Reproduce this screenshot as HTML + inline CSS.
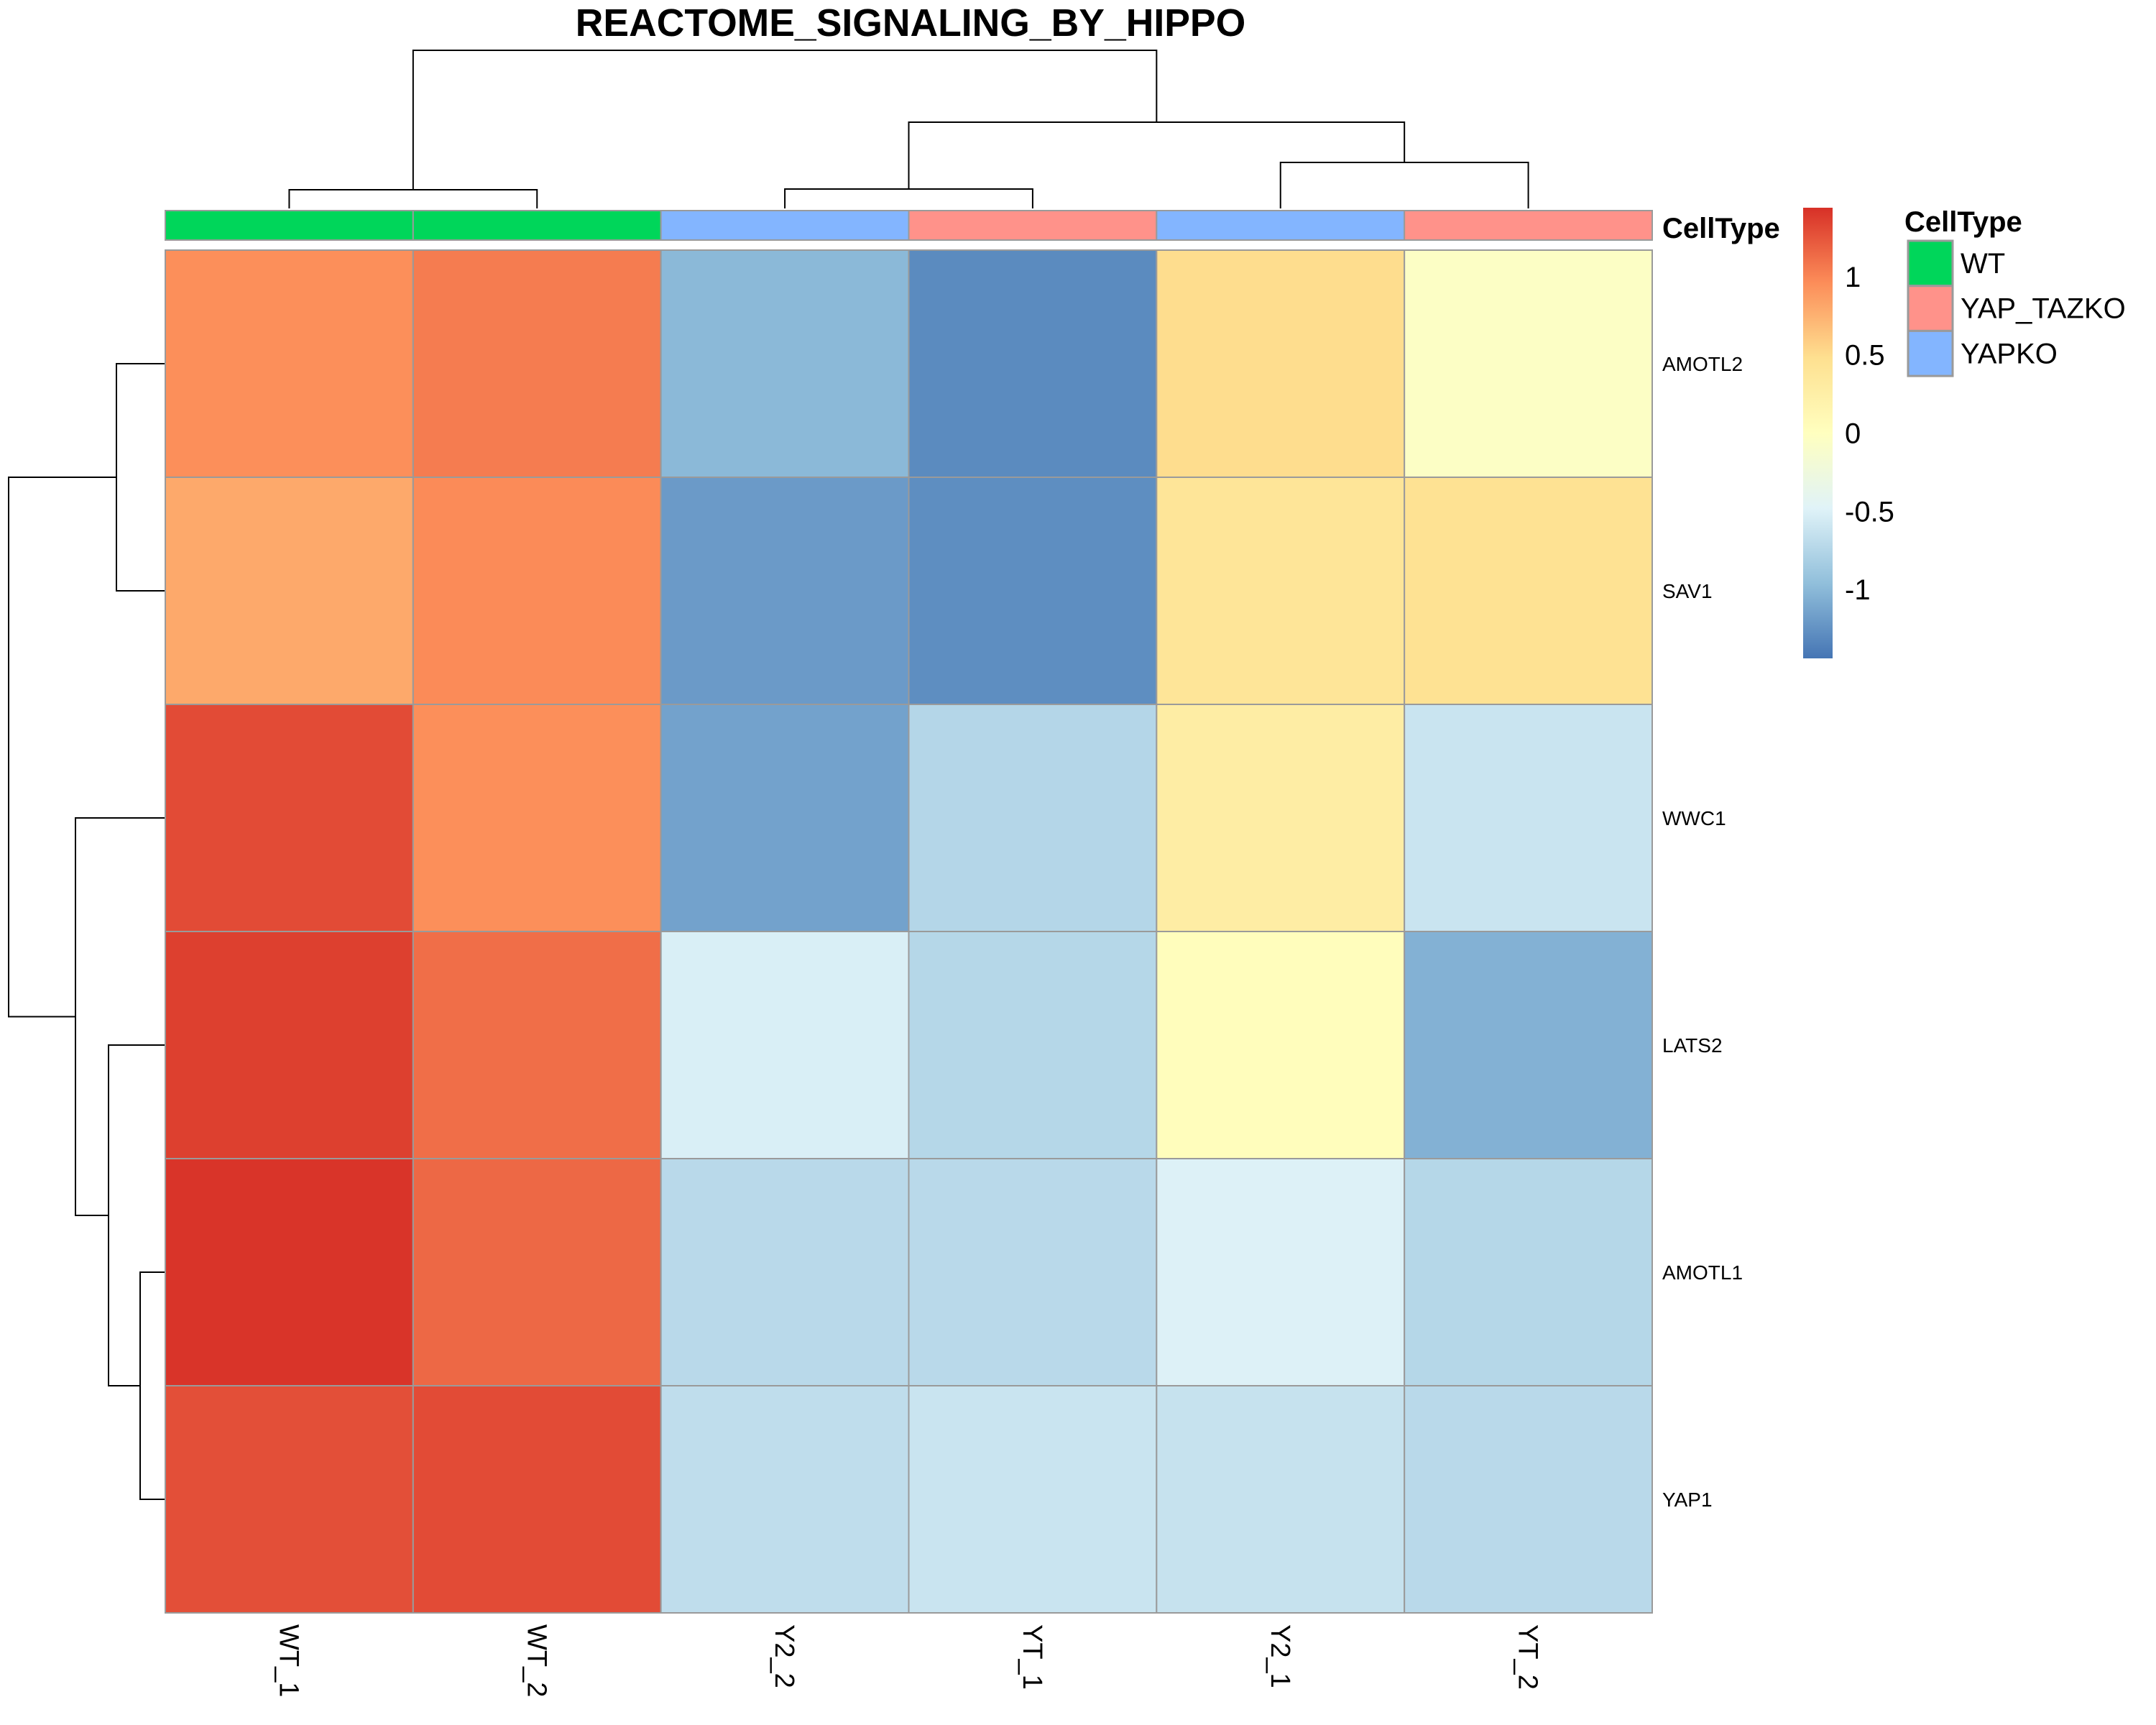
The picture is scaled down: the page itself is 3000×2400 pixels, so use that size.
<!DOCTYPE html>
<html><head><meta charset="utf-8"><style>
html,body{margin:0;padding:0;background:#fff;}
svg{display:block;font-family:"Liberation Sans",Arial,sans-serif;}
</style></head><body>
<svg id="chart" width="3000" height="2400" viewBox="0 0 3000 2400" xmlns="http://www.w3.org/2000/svg">
<text x="1267" y="50" font-size="53.5" font-weight="bold" text-anchor="middle">REACTOME_SIGNALING_BY_HIPPO</text>
<g id="dendro" stroke="#000" stroke-width="2" fill="none"></g>
<g id="annot"></g>
<g id="cells"></g>
<g id="rowlabels"></g>
<g id="collabels"></g>
<text x="2313" y="331" font-size="40" font-weight="bold">CellType</text>
<defs><linearGradient id="cbgrad" x1="0" y1="1" x2="0" y2="0">
<stop offset="0" stop-color="#4575B4"/><stop offset="0.1667" stop-color="#91BFDB"/><stop offset="0.3333" stop-color="#E0F3F8"/><stop offset="0.5" stop-color="#FFFFBF"/><stop offset="0.6667" stop-color="#FEE090"/><stop offset="0.8333" stop-color="#FC8D59"/><stop offset="1" stop-color="#D73027"/></linearGradient></defs>
<rect x="2509" y="289" width="41" height="627" fill="url(#cbgrad)"/>
<g id="cbticks"></g>
<text x="2650" y="322" font-size="40" font-weight="bold">CellType</text>
<g id="legend"></g>
</svg>
<script>
const rowNames = ["AMOTL2","SAV1","WWC1","LATS2","AMOTL1","YAP1"];
const colNames = ["WT_1","WT_2","Y2_2","YT_1","Y2_1","YT_2"];
const colTypes = ["WT","WT","YAPKO","YAP_TAZKO","YAPKO","YAP_TAZKO"];
const rowAMOTL2 = [0.95,1.05,-1.0,-1.3,0.5,-0.05];
const rowSAV1 = [0.8,0.97,-1.2,-1.28,0.4,0.45];
const rowWWC1 = [1.3,0.95,-1.15,-0.75,0.28,-0.62];
const rowLATS2 = [1.36,1.12,-0.52,-0.74,0.03,-1.05];
const rowAMOTL1 = [1.42,1.15,-0.72,-0.72,-0.5,-0.74];
const rowYAP1 = [1.28,1.3,-0.68,-0.62,-0.64,-0.72];
const values = [rowAMOTL2,rowSAV1,rowWWC1,rowLATS2,rowAMOTL1,rowYAP1];
const scaleTicks = [1,0.5,0,-0.5,-1];
const scaleTickLabels = ["1","0.5","0","-0.5","-1"];
const legendTypes = ["WT","YAP_TAZKO","YAPKO"];
const typeColors = {"WT":"#00D65A","YAP_TAZKO":"#FF928A","YAPKO":"#83B5FF"};
const vMin = -1.44, vMax = 1.44;
const palette = ["#4575B4","#91BFDB","#E0F3F8","#FFFFBF","#FEE090","#FC8D59","#D73027"];
const NS="http://www.w3.org/2000/svg";
const X0=230,X1=2299,Y0=348,Y1=2244;
const cw=(X1-X0)/colNames.length, ch=(Y1-Y0)/rowNames.length;
const xCol=i=>X0+i*cw, yRow=j=>Y0+j*ch;
const cbTop=289,cbBot=916;
const yScale=v=>cbBot-(v-vMin)/(vMax-vMin)*(cbBot-cbTop);
function hex(h){return [1,3,5].map(i=>parseInt(h.substr(i,2),16));}
function colorFor(v){
  let t=(v-vMin)/(vMax-vMin); t=Math.max(0,Math.min(1,t))*(palette.length-1);
  const i=Math.min(palette.length-2,Math.floor(t)), f=t-i;
  const a=hex(palette[i]), b=hex(palette[i+1]);
  return "rgb("+a.map((c,k)=>Math.round(c+(b[k]-c)*f)).join(",")+")";
}
function mk(tag,attrs,parent){const e=document.createElementNS(NS,tag);for(const k in attrs)e.setAttribute(k,attrs[k]);parent.appendChild(e);return e;}
const cells=document.getElementById("cells");
values.forEach((row,j)=>row.forEach((v,i)=>{
  const r=mk("rect",{x:xCol(i),y:yRow(j),width:cw,height:ch,fill:colorFor(v),stroke:"#9a9a9a","stroke-width":2},cells);
  
  
}));
const annot=document.getElementById("annot");
colTypes.forEach((t,i)=>{
  const r=mk("rect",{x:xCol(i),y:293,width:cw,height:41,fill:typeColors[t],stroke:"#9a9a9a","stroke-width":2},annot);
  
  
});
const rl=document.getElementById("rowlabels");
rowNames.forEach((n,j)=>{
  const t=mk("text",{x:2313,y:yRow(j)+ch/2+10,"font-size":28},rl);t.textContent=n;
  
  
});
const cl=document.getElementById("collabels");
colNames.forEach((n,i)=>{
  const cx=xCol(i)+cw/2;
  const t=mk("text",{x:0,y:0,"font-size":38,transform:"translate("+(cx-13)+",2260) rotate(90)"},cl);t.textContent=n;
  
  
});
const cb=document.getElementById("cbticks");
scaleTicks.forEach((v,k)=>{
  const t=mk("text",{x:2567,y:yScale(v)+14,"font-size":40},cb);t.textContent=scaleTickLabels[k];
  
  
});
const lg=document.getElementById("legend");
legendTypes.forEach((t,k)=>{
  const y=335+k*62.7;
  const r=mk("rect",{x:2655,y:y,width:62,height:62.7,fill:typeColors[t],stroke:"#9a9a9a","stroke-width":3},lg);
  
  
  const tx=mk("text",{x:2728,y:y+45,"font-size":40},lg);tx.textContent=t;
  
  
});
const d=document.getElementById("dendro");
function seg(pts){const p=mk("polyline",{points:pts.map(q=>q.join(",")).join(" ")},d);
  
  }
const cx=i=>xCol(i)+cw/2, cy=j=>yRow(j)+ch/2;
seg([[cx(0),290],[cx(0),264],[cx(1),264],[cx(1),290]]);
seg([[cx(2),290],[cx(2),263],[cx(3),263],[cx(3),290]]);
seg([[cx(4),290],[cx(4),226],[cx(5),226],[cx(5),290]]);
const m23=(cx(2)+cx(3))/2, m45=(cx(4)+cx(5))/2, m01=(cx(0)+cx(1))/2;
seg([[m23,263],[m23,170],[m45,170],[m45,226]]);
const mR=(m23+m45)/2;
seg([[m01,264],[m01,70],[mR,70],[mR,170]]);
seg([[X0,cy(0)],[162,cy(0)],[162,cy(1)],[X0,cy(1)]]);
seg([[X0,cy(4)],[195,cy(4)],[195,cy(5)],[X0,cy(5)]]);
const r45=(cy(4)+cy(5))/2;
seg([[X0,cy(3)],[151,cy(3)],[151,r45],[195,r45]]);
const r345=(cy(3)+r45)/2;
seg([[X0,cy(2)],[105,cy(2)],[105,r345],[151,r345]]);
const r01=(cy(0)+cy(1))/2, r2345=(cy(2)+r345)/2;
seg([[162,r01],[12,r01],[12,r2345],[105,r2345]]);
</script>
</body></html>
